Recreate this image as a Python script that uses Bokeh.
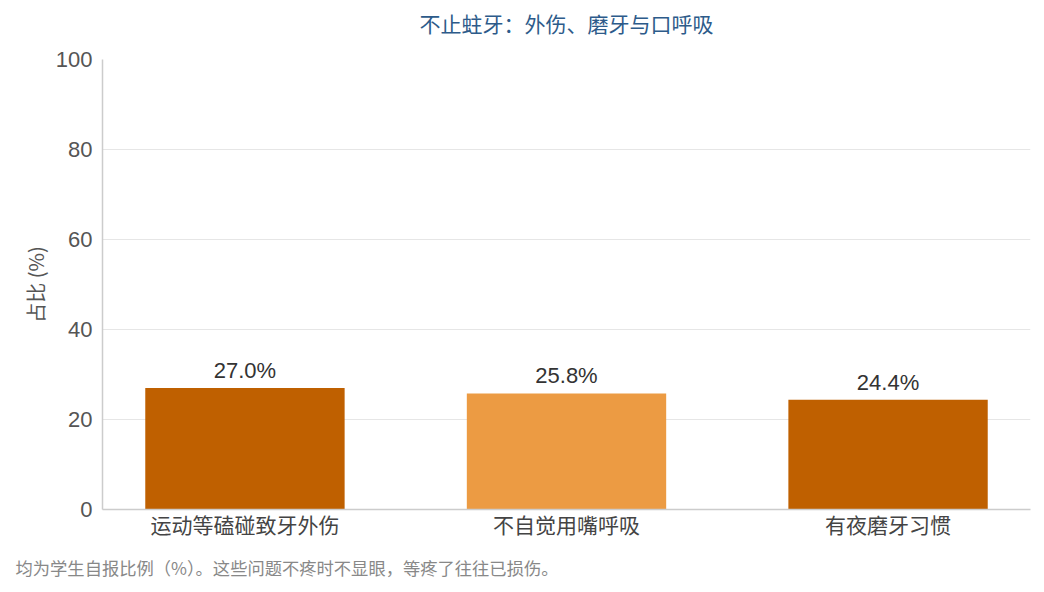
from bokeh.plotting import figure
from bokeh.models import Range1d, FixedTicker, ColumnDataSource, LabelSet, Title
from bokeh.core.properties import value
from bokeh.embed import file_html
from bokeh.resources import INLINE

categories = ["运动等磕碰致牙外伤", "不自觉用嘴呼吸", "有夜磨牙习惯"]
values = [27.0, 25.8, 24.4]
colors = ["#bf6000", "#ec9b43", "#bf6000"]
y_ticks = [0, 20, 40, 60, 80, 100]
title_text = "不止蛀牙：外伤、磨牙与口呼吸"
y_label = "占比 (%)"
footnote = "均为学生自报比例（%）。这些问题不疼时不显眼，等疼了往往已损伤。"

FONT = "Liberation Sans"
CJK = "Noto Sans CJK SC"

xs = list(range(len(categories)))
src = ColumnDataSource(dict(x=xs, top=values, color=colors,
                            label=[f"{v:.1f}%" for v in values]))

p = figure(width=1036, height=591, output_backend="svg", toolbar_location=None,
           x_range=Range1d(-0.443, len(categories) - 1 + 0.443),
           y_range=Range1d(0, 100),
           min_border_left=102, min_border_right=6, min_border_top=59, min_border_bottom=82)

p.title.text = title_text
p.title.align = "center"
p.title.text_font = CJK
p.title.text_font_size = "21px"
p.title.text_font_style = "normal"
p.title.text_color = "#2d5b8a"
p.title.standoff = 0

# spacer between title and plot area
spacer = Title(text=" ", text_font_size="1px", standoff=19)
p.add_layout(spacer, "above")

p.vbar(x="x", top="top", bottom=0, width=0.62, fill_color="color", line_color=None, source=src)

labels = LabelSet(x="x", y="top", text="label", source=src, text_align="center",
                  text_baseline="bottom", y_offset=5, text_font_size=value("22px"),
                  text_color="#333333", text_font=value(FONT))
p.add_layout(labels)

p.xaxis.ticker = FixedTicker(ticks=xs)
p.xaxis.major_label_overrides = {i: c for i, c in enumerate(categories)}
p.xaxis.major_label_text_font = CJK
p.xaxis.major_label_text_font_size = "21px"
p.xaxis.major_label_text_color = "#444444"
p.xaxis.major_tick_line_color = None
p.xaxis.minor_tick_line_color = None
p.xaxis.axis_line_color = "#cccccc"
p.xaxis.axis_line_width = 1.5
p.xaxis.major_label_standoff = -7

p.yaxis.ticker = FixedTicker(ticks=y_ticks)
p.yaxis.major_label_text_font = FONT
p.yaxis.major_label_text_font_size = "22px"
p.yaxis.major_label_text_color = "#555555"
p.yaxis.major_tick_line_color = None
p.yaxis.minor_tick_line_color = None
p.yaxis.axis_line_color = "#cccccc"
p.yaxis.axis_line_width = 1.5
p.yaxis.major_label_standoff = 4
p.yaxis.axis_label = y_label
p.yaxis.axis_label_text_font = CJK
p.yaxis.axis_label_text_font_size = "20px"
p.yaxis.axis_label_text_font_style = "normal"
p.yaxis.axis_label_text_color = "#555555"
p.yaxis.axis_label_standoff = 3

p.xgrid.grid_line_color = None
p.ygrid.grid_line_color = "#e6e6e6"
p.ygrid.grid_line_width = 1.2
p.outline_line_color = None

note = Title(text=footnote, align="left", offset=-87, standoff=23,
             text_font=CJK, text_font_size="17.3px", text_color="#888888",
             text_font_style="normal")
p.add_layout(note, "below")

open("out.html", "w").write(file_html(p, INLINE))
